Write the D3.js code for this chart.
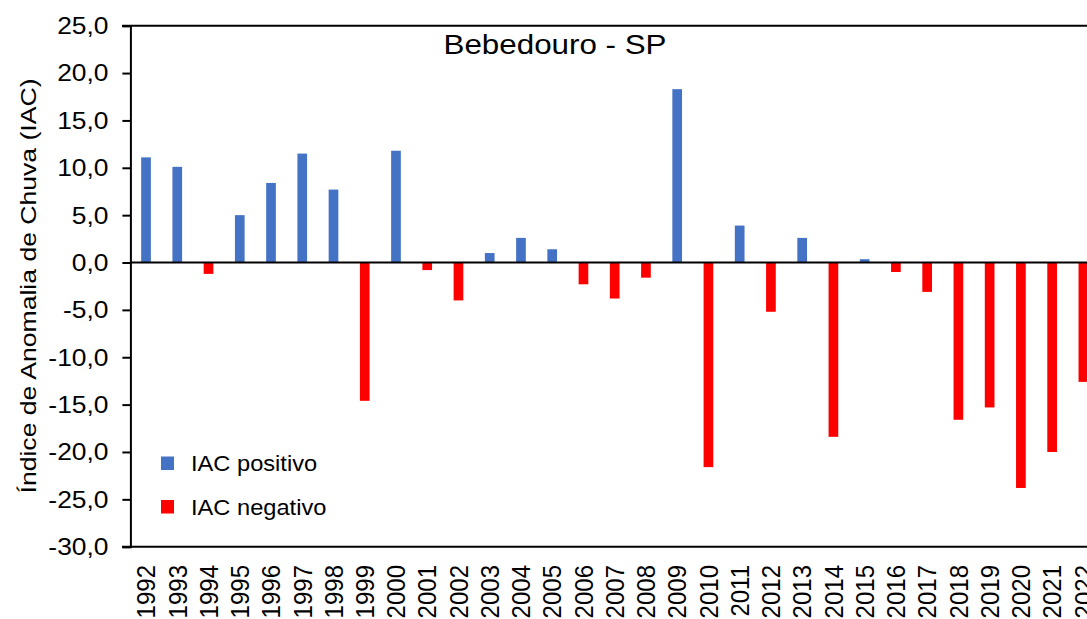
<!DOCTYPE html>
<html>
<head>
<meta charset="utf-8">
<script src="https://cdn.jsdelivr.net/npm/d3@7"></script>
<style>
  html, body { margin: 0; padding: 0; background: #fff; }
  svg { display: block; font-family: "Liberation Sans", Arial, sans-serif; }
</style>
</head>
<body>
<svg id="chart" width="1087" height="619"></svg>
<script>
const years = ["1992","1993","1994","1995","1996","1997","1998","1999","2000","2001",
  "2002","2003","2004","2005","2006","2007","2008","2009","2010","2011",
  "2012","2013","2014","2015","2016","2017","2018","2019","2020","2021","2022"];
const iac = [11.1, 10.1, -1.2, 5.0, 8.4, 11.5, 7.7, -14.6, 11.8, -0.8,
  -4.0, 1.0, 2.6, 1.4, -2.3, -3.8, -1.6, 18.3, -21.6, 3.9,
  -5.2, 2.6, -18.4, 0.35, -1.0, -3.1, -16.6, -15.3, -23.8, -20.0, -12.6];
const yTicks = [25, 20, 15, 10, 5, 0, -5, -10, -15, -20, -25, -30];
const seriesNames = ["IAC positivo", "IAC negativo"];
const seriesColors = ["#4472C4", "#FF0000"];
const title = "Bebedouro - SP";
const yLabel = "Índice de Anomalia de Chuva (IAC)";

const svg = d3.select("#chart");
const pLeft = 130.4, pRight = 1099, pTop = 25.7, pBottom = 546.7;
const SX = 1.1;

const x = d3.scaleBand().domain(years).range([pLeft, pRight]).paddingInner(0.69).paddingOuter(0.345);
const y = d3.scaleLinear().domain([-30, 25]).range([pBottom, pTop]);
const fmt = v => d3.format(".1f")(v).replace(".", ",").replace("−", "-");

// bars
svg.append("g").selectAll("rect").data(years).join("rect")
  .attr("x", d => x(d))
  .attr("width", x.bandwidth())
  .attr("y", (d, i) => y(Math.max(0, iac[i])))
  .attr("height", (d, i) => Math.abs(y(iac[i]) - y(0)))
  .attr("fill", (d, i) => iac[i] >= 0 ? seriesColors[0] : seriesColors[1]);

// zero line
svg.append("line").attr("x1", pLeft).attr("x2", 1087)
  .attr("y1", y(0)).attr("y2", y(0)).attr("stroke", "#000").attr("stroke-width", 2);

// top & bottom border lines
[25, -30].forEach(v => {
  svg.append("line").attr("x1", 122).attr("x2", 1087)
    .attr("y1", y(v)).attr("y2", y(v)).attr("stroke", "#000").attr("stroke-width", 2);
});

// y axis
const yAxis = d3.axisLeft(y).tickValues(yTicks).tickSize(8).tickFormat(() => "");
const ya = svg.append("g").attr("transform", `translate(${pLeft},0)`).call(yAxis);
ya.select(".domain").attr("stroke", "#000").attr("stroke-width", 2);
ya.selectAll(".tick line").attr("stroke", "#000").attr("stroke-width", 2);

svg.append("g").selectAll("text").data(yTicks).join("text")
  .attr("transform", d => `translate(108.5,${y(d)}) scale(${SX},1)`)
  .attr("text-anchor", "end").attr("dy", "0.35em")
  .attr("font-size", 24).attr("fill", "#000")
  .text(d => fmt(d));

// x labels
svg.append("g").selectAll("text").data(years).join("text")
  .attr("transform", d => `translate(${x(d) + x.bandwidth() / 2},565) scale(${SX},1) rotate(-90)`)
  .attr("text-anchor", "end").attr("dy", "0.35em")
  .attr("font-size", 24).attr("fill", "#000")
  .text(d => d);

// title
svg.append("text")
  .attr("transform", `translate(555,54.3) scale(${SX},1)`)
  .attr("text-anchor", "middle").attr("font-size", 28.5).attr("fill", "#000")
  .text(title);

// y label
svg.append("text")
  .attr("transform", "translate(36,286) rotate(-90)")
  .attr("text-anchor", "middle").attr("font-size", 22.5).attr("fill", "#000")
  .attr("textLength", 415).attr("lengthAdjust", "spacingAndGlyphs")
  .text(yLabel);

// legend
const legY = [463.5, 507];
seriesNames.forEach((name, i) => {
  svg.append("rect").attr("x", 161).attr("y", legY[i] - 7).attr("width", 13).attr("height", 13.5)
    .attr("fill", seriesColors[i]);
  svg.append("text")
    .attr("transform", `translate(191,${legY[i]}) scale(${SX},1)`)
    .attr("dy", "0.35em").attr("font-size", 21.5).attr("fill", "#000")
    .text(name);
});
</script>
</body>
</html>
